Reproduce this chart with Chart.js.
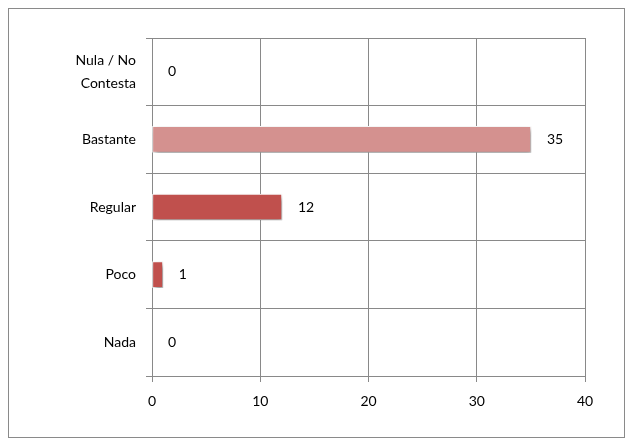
<!DOCTYPE html>
<html><head><meta charset="utf-8">
<script src="https://cdn.jsdelivr.net/npm/chart.js@4"></script>
<style>html,body{margin:0;padding:0;background:#fff}#wrap{width:632px;height:448px;position:relative}</style>
</head><body><div id="wrap"><canvas id="c" width="632" height="448"></canvas></div>
<script>
const categories = [['Nula / No','Contesta'], 'Bastante', 'Regular', 'Poco', 'Nada'];
const values = [0, 35, 12, 1, 0];
const barColors = ['#C0504D', '#D4918F', '#C0504D', '#C0504D', '#C0504D'];
const xTicks = [0, 10, 20, 30, 40];

const FONT = 'Lato, "Open Sans", sans-serif';

const frame = {
  id: 'frame',
  beforeDraw(chart) {
    const ctx = chart.ctx;
    ctx.save();
    ctx.fillStyle = '#fff';
    ctx.fillRect(0, 0, chart.width, chart.height);
    ctx.strokeStyle = '#8a8a8a';
    ctx.lineWidth = 1;
    ctx.strokeRect(8.5, 8.5, 616, 429);
    ctx.restore();
  }
};
const shadow = {
  id: 'shadow',
  beforeDatasetsDraw(chart) {
    const ctx = chart.ctx;
    ctx.save();
    ctx.shadowColor = 'rgba(0,0,0,0.45)';
    ctx.shadowBlur = 5;
    ctx.shadowOffsetX = 2;
    ctx.shadowOffsetY = 3;
  },
  afterDatasetsDraw(chart) {
    const ctx = chart.ctx;
    ctx.restore();
    const meta = chart.getDatasetMeta(0);
    ctx.save();
    ctx.font = '14px ' + FONT;
    ctx.fillStyle = '#000';
    ctx.textAlign = 'left';
    ctx.textBaseline = 'middle';
    meta.data.forEach((el, i) => {
      ctx.fillText(String(values[i]), el.x + 16, el.y);
    });
    ctx.restore();
  }
};

new Chart(document.getElementById('c'), {
  type: 'bar',
  data: {
    labels: categories,
    datasets: [{
      data: values,
      backgroundColor: barColors,
      borderColor: '#ffffff',
      borderWidth: 1,
      borderSkipped: false,
      barThickness: 26
    }]
  },
  options: {
    indexAxis: 'y',
    responsive: false,
    animation: false,
    devicePixelRatio: 1,
    layout: { padding: { left: 0, top: 38, right: 47, bottom: 42 } },
    plugins: { legend: { display: false }, tooltip: { enabled: false } },
    scales: {
      x: {
        min: 0, max: 40,
        afterBuildTicks(scale) { scale.ticks = xTicks.map(v => ({ value: v })); },
        ticks: { color: '#000', font: { family: FONT, size: 14 }, padding: 11 },
        grid: { color: '#898989', lineWidth: 1, tickLength: 6 },
        border: { color: '#898989', width: 1 },
        afterFit(scale) { scale.height = 30; }
      },
      y: {
        ticks: { color: '#000', font: { family: FONT, size: 14, lineHeight: 1.6 }, padding: 10 },
        grid: { color: '#898989', lineWidth: 1, tickLength: 6, offset: true },
        border: { color: '#898989', width: 1 },
        afterFit(scale) { scale.width = 152; }
      }
    }
  },
  plugins: [frame, shadow]
});
</script>
</body></html>
